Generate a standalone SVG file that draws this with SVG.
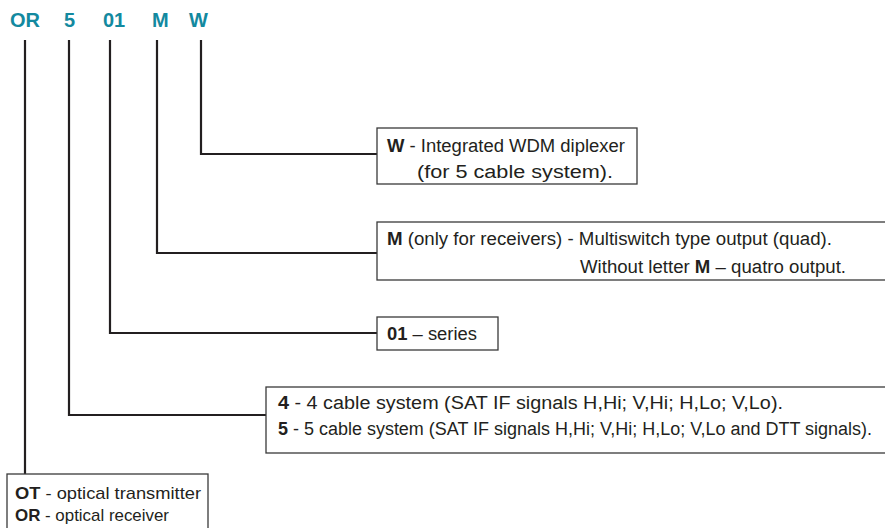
<svg xmlns="http://www.w3.org/2000/svg" width="885" height="528" viewBox="0 0 885 528">
<style>
.hdr{font-family:"Liberation Sans",Arial,sans-serif;font-weight:bold;font-size:20px;fill:#13899f}
.t{font-family:"Liberation Sans",Arial,sans-serif;font-size:18px;fill:#231f20}
.n{font-family:"Liberation Sans",Arial,sans-serif;font-size:18px;fill:#231f20}
.s{font-family:"Liberation Sans",Arial,sans-serif;font-size:17px;fill:#231f20}
.b{font-weight:bold}
.box{fill:#fff;stroke:#3a3a3a;stroke-width:1.3}
.con{fill:none;stroke:#231f20;stroke-width:2.2}
</style>
<rect width="885" height="528" fill="#fff"/>
<g id="header">
<text class="hdr" x="10" y="27">OR</text>
<text class="hdr" x="64" y="27">5</text>
<text class="hdr" x="103" y="27">01</text>
<text class="hdr" x="152" y="27">M</text>
<text class="hdr" x="189" y="27">W</text>
</g>
<g id="connectors">
<path class="con" d="M201 40 V154 H377"/>
<path class="con" d="M157 40 V253 H377"/>
<path class="con" d="M110 40 V333 H377"/>
<path class="con" d="M69 40 V415 H266"/>
<path class="con" d="M25 40 V474"/>
</g>
<g id="node-w">
<rect class="box" x="377" y="128" width="260" height="56"/>
<text class="t" x="387" y="152" textLength="238" lengthAdjust="spacingAndGlyphs"><tspan class="b">W</tspan> - Integrated WDM diplexer</text>
<text class="t" x="417" y="178" textLength="196" lengthAdjust="spacingAndGlyphs">(for 5 cable system).</text>
</g>
<g id="node-m">
<rect class="box" x="377" y="222" width="520" height="58"/>
<text class="t" x="387" y="245" textLength="445" lengthAdjust="spacingAndGlyphs"><tspan class="b">M</tspan> (only for receivers) - Multiswitch type output (quad).</text>
<text class="t" x="580" y="273" textLength="266" lengthAdjust="spacingAndGlyphs">Without letter <tspan class="b">M</tspan> – quatro output.</text>
</g>
<g id="node-01">
<rect class="box" x="377" y="317" width="121" height="33"/>
<text class="t" x="387" y="340" textLength="90" lengthAdjust="spacingAndGlyphs"><tspan class="b">01</tspan> – series</text>
</g>
<g id="node-45">
<rect class="box" x="266" y="387" width="630" height="66"/>
<text class="n" x="278" y="409" textLength="505" lengthAdjust="spacingAndGlyphs"><tspan class="b">4</tspan> - 4 cable system (SAT IF signals H,Hi; V,Hi; H,Lo; V,Lo).</text>
<text class="n" x="278" y="435" textLength="594" lengthAdjust="spacingAndGlyphs"><tspan class="b">5</tspan> - 5 cable system (SAT IF signals H,Hi; V,Hi; H,Lo; V,Lo and DTT signals).</text>
</g>
<g id="node-ot">
<rect class="box" x="7" y="474" width="201" height="70"/>
<text class="s" x="15" y="499" textLength="186" lengthAdjust="spacingAndGlyphs"><tspan class="b">OT</tspan> - optical transmitter</text>
<text class="s" x="15" y="521" textLength="154" lengthAdjust="spacingAndGlyphs"><tspan class="b">OR</tspan> - optical receiver</text>
</g>
</svg>
